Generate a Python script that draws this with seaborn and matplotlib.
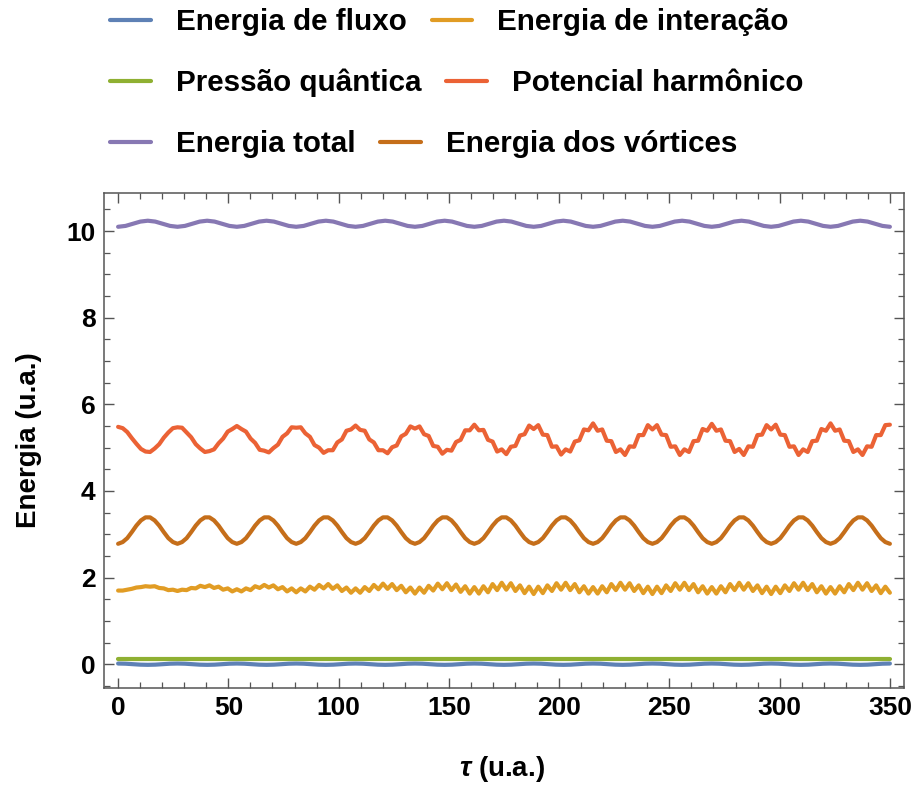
import numpy as np
import matplotlib
matplotlib.use("Agg")
import matplotlib.pyplot as plt
from matplotlib.lines import Line2D
from matplotlib.ticker import MultipleLocator
import seaborn as sns

# ---------------- data ----------------
labels = ["Energia de fluxo", "Energia de interação", "Pressão quântica",
          "Potencial harmônico", "Energia total", "Energia dos vórtices"]
colors = ["#5E81B5", "#E19C24", "#8FB032", "#EB6235", "#8778B3", "#C56E1A"]

x_ticks = [0, 50, 100, 150, 200, 250, 300, 350]
y_ticks = [0, 2, 4, 6, 8, 10]

# time grids (tau, u.a.)
t_fast = np.linspace(0, 350, 170)
t_slow = np.linspace(0, 350, 105)
t_q = [0, 50, 100, 150, 200, 250, 300, 350]

potencial_harmonico = [
    5.48, 5.45, 5.36, 5.22, 5.09, 4.97, 4.91, 4.90, 4.98, 5.08, 5.23, 5.35, 5.45,
    5.47, 5.46, 5.35, 5.24, 5.08, 4.98, 4.90, 4.92, 4.96, 5.10, 5.21, 5.37, 5.43,
    5.50, 5.43, 5.37, 5.21, 5.11, 4.95, 4.93, 4.89, 4.99, 5.07, 5.25, 5.33, 5.47,
    5.46, 5.47, 5.33, 5.25, 5.06, 5.00, 4.88, 4.94, 4.94, 5.12, 5.19, 5.39, 5.42,
    5.51, 5.41, 5.39, 5.19, 5.12, 4.94, 4.94, 4.87, 5.01, 5.05, 5.26, 5.32, 5.49,
    5.44, 5.49, 5.31, 5.27, 5.04, 5.02, 4.86, 4.95, 4.93, 5.13, 5.18, 5.40, 5.40,
    5.53, 5.40, 5.41, 5.18, 5.14, 4.91, 4.96, 4.85, 5.02, 5.04, 5.28, 5.31, 5.51,
    5.43, 5.52, 5.30, 5.29, 5.02, 5.03, 4.84, 4.96, 4.91, 5.14, 5.17, 5.42, 5.40,
    5.56, 5.39, 5.42, 5.16, 5.15, 4.90, 4.96, 4.83, 5.03, 5.02, 5.29, 5.29, 5.52,
    5.42, 5.52, 5.30, 5.29, 5.02, 5.03, 4.83, 4.96, 4.90, 5.15, 5.16, 5.43, 5.39,
    5.55, 5.39, 5.42, 5.16, 5.15, 4.90, 4.97, 4.83, 5.03, 5.02, 5.29, 5.30, 5.52,
    5.42, 5.53, 5.30, 5.29, 5.02, 5.03, 4.83, 4.96, 4.90, 5.15, 5.16, 5.43, 5.39,
    5.56, 5.39, 5.42, 5.16, 5.15, 4.90, 4.96, 4.83, 5.03, 5.02, 5.29, 5.29, 5.52,
    5.53,
]

energia_interacao = [
    1.70, 1.70, 1.72, 1.74, 1.77, 1.78, 1.80, 1.79, 1.80, 1.76, 1.75, 1.71, 1.72,
    1.69, 1.72, 1.71, 1.76, 1.75, 1.81, 1.78, 1.82, 1.76, 1.79, 1.72, 1.75, 1.68,
    1.73, 1.68, 1.75, 1.71, 1.80, 1.76, 1.83, 1.77, 1.82, 1.73, 1.78, 1.68, 1.75,
    1.66, 1.75, 1.68, 1.79, 1.72, 1.83, 1.75, 1.85, 1.74, 1.82, 1.69, 1.77, 1.65,
    1.75, 1.65, 1.78, 1.69, 1.83, 1.73, 1.86, 1.74, 1.85, 1.71, 1.81, 1.66, 1.77,
    1.63, 1.77, 1.65, 1.81, 1.70, 1.86, 1.73, 1.87, 1.71, 1.84, 1.67, 1.80, 1.63,
    1.78, 1.63, 1.80, 1.66, 1.85, 1.71, 1.88, 1.72, 1.87, 1.69, 1.82, 1.64, 1.79,
    1.62, 1.79, 1.64, 1.82, 1.69, 1.87, 1.72, 1.88, 1.71, 1.85, 1.66, 1.80, 1.63,
    1.78, 1.63, 1.80, 1.66, 1.85, 1.71, 1.88, 1.72, 1.87, 1.69, 1.82, 1.64, 1.79,
    1.62, 1.79, 1.64, 1.82, 1.69, 1.87, 1.72, 1.88, 1.71, 1.85, 1.66, 1.80, 1.63,
    1.78, 1.63, 1.80, 1.66, 1.85, 1.71, 1.88, 1.72, 1.87, 1.69, 1.82, 1.64, 1.79,
    1.62, 1.79, 1.64, 1.82, 1.69, 1.87, 1.72, 1.88, 1.71, 1.85, 1.66, 1.80, 1.63,
    1.78, 1.63, 1.80, 1.66, 1.85, 1.71, 1.88, 1.72, 1.87, 1.69, 1.82, 1.64, 1.79,
    1.65,
]

energia_vortices = [
    2.78, 2.82, 2.91, 3.05, 3.20, 3.32, 3.39, 3.39, 3.32, 3.20, 3.05, 2.91, 2.82,
    2.78, 2.82, 2.91, 3.05, 3.20, 3.32, 3.39, 3.39, 3.32, 3.20, 3.05, 2.91, 2.82,
    2.78, 2.82, 2.91, 3.05, 3.20, 3.32, 3.39, 3.39, 3.32, 3.20, 3.05, 2.91, 2.82,
    2.78, 2.82, 2.91, 3.05, 3.20, 3.32, 3.39, 3.39, 3.32, 3.20, 3.05, 2.91, 2.82,
    2.78, 2.82, 2.91, 3.05, 3.20, 3.32, 3.39, 3.39, 3.32, 3.20, 3.05, 2.91, 2.82,
    2.78, 2.82, 2.91, 3.05, 3.20, 3.32, 3.39, 3.39, 3.32, 3.20, 3.05, 2.91, 2.82,
    2.78, 2.82, 2.91, 3.05, 3.20, 3.32, 3.39, 3.39, 3.32, 3.20, 3.05, 2.91, 2.82,
    2.78, 2.82, 2.91, 3.05, 3.20, 3.32, 3.39, 3.39, 3.32, 3.20, 3.05, 2.91, 2.82,
    2.78, 2.82, 2.91, 3.05, 3.20, 3.32, 3.39, 3.39, 3.32, 3.20, 3.05, 2.91, 2.82,
    2.78, 2.82, 2.91, 3.05, 3.20, 3.32, 3.39, 3.39, 3.32, 3.20, 3.05, 2.91, 2.82,
    2.78, 2.82, 2.91, 3.05, 3.20, 3.32, 3.39, 3.39, 3.32, 3.20, 3.05, 2.91, 2.82,
    2.78, 2.82, 2.91, 3.05, 3.20, 3.32, 3.39, 3.39, 3.32, 3.20, 3.05, 2.91, 2.82,
    2.78, 2.82, 2.91, 3.05, 3.20, 3.32, 3.39, 3.39, 3.32, 3.20, 3.05, 2.91, 2.82,
    2.78,
]

energia_total = [
    10.10, 10.12, 10.17, 10.22, 10.24, 10.22, 10.17, 10.12,
    10.10, 10.12, 10.17, 10.22, 10.24, 10.22, 10.17, 10.12,
    10.10, 10.12, 10.17, 10.22, 10.24, 10.22, 10.17, 10.12,
    10.10, 10.12, 10.17, 10.22, 10.24, 10.22, 10.17, 10.12,
    10.10, 10.12, 10.17, 10.22, 10.24, 10.22, 10.17, 10.12,
    10.10, 10.12, 10.17, 10.22, 10.24, 10.22, 10.17, 10.12,
    10.10, 10.12, 10.17, 10.22, 10.24, 10.22, 10.17, 10.12,
    10.10, 10.12, 10.17, 10.22, 10.24, 10.22, 10.17, 10.12,
    10.10, 10.12, 10.17, 10.22, 10.24, 10.22, 10.17, 10.12,
    10.10, 10.12, 10.17, 10.22, 10.24, 10.22, 10.17, 10.12,
    10.10, 10.12, 10.17, 10.22, 10.24, 10.22, 10.17, 10.12,
    10.10, 10.12, 10.17, 10.22, 10.24, 10.22, 10.17, 10.12,
    10.10, 10.12, 10.17, 10.22, 10.24, 10.22, 10.17, 10.12,
    10.10,
]

energia_fluxo = [
    0.015, 0.011, 0.000, -0.011, -0.015, -0.011, 0.000, 0.011,
    0.015, 0.011, 0.000, -0.011, -0.015, -0.011, 0.000, 0.011,
    0.015, 0.011, 0.000, -0.011, -0.015, -0.011, 0.000, 0.011,
    0.015, 0.011, 0.000, -0.011, -0.015, -0.011, 0.000, 0.011,
    0.015, 0.011, 0.000, -0.011, -0.015, -0.011, 0.000, 0.011,
    0.015, 0.011, 0.000, -0.011, -0.015, -0.011, 0.000, 0.011,
    0.015, 0.011, 0.000, -0.011, -0.015, -0.011, 0.000, 0.011,
    0.015, 0.011, 0.000, -0.011, -0.015, -0.011, 0.000, 0.011,
    0.015, 0.011, 0.000, -0.011, -0.015, -0.011, 0.000, 0.011,
    0.015, 0.011, 0.000, -0.011, -0.015, -0.011, 0.000, 0.011,
    0.015, 0.011, 0.000, -0.011, -0.015, -0.011, 0.000, 0.011,
    0.015, 0.011, 0.000, -0.011, -0.015, -0.011, 0.000, 0.011,
    0.015, 0.011, 0.000, -0.011, -0.015, -0.011, 0.000, 0.011,
    0.015,
]

pressao_quantica = [0.12, 0.12, 0.12, 0.12, 0.12, 0.12, 0.12, 0.12]

# ---------------- style ----------------
sns.set_style("ticks")
plt.rcParams['font.family'] = ['Liberation Sans', 'DejaVu Sans']
plt.rcParams['font.weight'] = 'bold'
plt.rcParams['text.color'] = 'black'
plt.rcParams['axes.labelcolor'] = 'black'
plt.rcParams['xtick.labelcolor'] = 'black'
plt.rcParams['ytick.labelcolor'] = 'black'
plt.rcParams['mathtext.fontset'] = 'custom'
plt.rcParams['mathtext.it'] = 'Liberation Sans:italic:bold'
plt.rcParams['mathtext.rm'] = 'Liberation Sans:bold'

fig = plt.figure(figsize=(9.14, 7.85), dpi=100)
ax = fig.add_axes([104 / 914, 1 - 688 / 785, 800 / 914, 495 / 785])

series = [
    (t_slow, energia_fluxo),
    (t_fast, energia_interacao),
    (t_q, pressao_quantica),
    (t_fast, potencial_harmonico),
    (t_slow, energia_total),
    (t_fast, energia_vortices),
]
LW = 3.0
for (x, y), c in zip(series, colors):
    sns.lineplot(x=x, y=y, ax=ax, color=c, linewidth=LW, estimator=None,
                 legend=False)

ax.set_xlim(-6.4, 356.4)
ax.set_ylim(-0.55, 10.88)
ax.set_xticks(x_ticks)
ax.set_yticks(y_ticks)
ax.xaxis.set_minor_locator(MultipleLocator(10))
ax.yaxis.set_minor_locator(MultipleLocator(0.5))
frame_c = "#555555"
for s in ax.spines.values():
    s.set_color(frame_c)
    s.set_linewidth(1.1)
ax.tick_params(which='both', direction='in', top=True, right=True,
               color=frame_c, labelcolor='black')
ax.tick_params(which='major', length=7, width=1.0, labelsize=19, pad=6)
ax.tick_params(which='minor', length=4, width=0.9)
for lab in ax.get_xticklabels() + ax.get_yticklabels():
    lab.set_fontweight('bold')
    lab.set_color('black')

ax.set_ylabel("Energia (u.a.)", fontsize=20, fontweight='bold', color='black')
ax.yaxis.set_label_coords((42 - 104) / 800, 0.5)
ax.set_xlabel(r"$\tau$ (u.a.)", fontsize=20, fontweight='bold', color='black')
ax.xaxis.set_label_coords(0.497, (688 - 754) / 495)

# ---------------- legends (three rows) ----------------
handles = [Line2D([0], [0], color=c, lw=LW) for c in colors]
rows_y = [1 - 22 / 785, 1 - 83 / 785, 1 - 144 / 785]
for r, yy in enumerate(rows_y):
    leg = fig.legend(handles[2 * r:2 * r + 2], labels[2 * r:2 * r + 2],
                     loc='center left', bbox_to_anchor=(110 / 914, yy), ncol=2,
                     frameon=False, borderpad=0, borderaxespad=0,
                     handlelength=1.37, handletextpad=0.85, columnspacing=0.85,
                     prop={'family': 'Liberation Sans', 'weight': 'bold',
                           'size': 21.3})
    for txt in leg.get_texts():
        txt.set_color('black')

fig.savefig("out.png", dpi=100)
